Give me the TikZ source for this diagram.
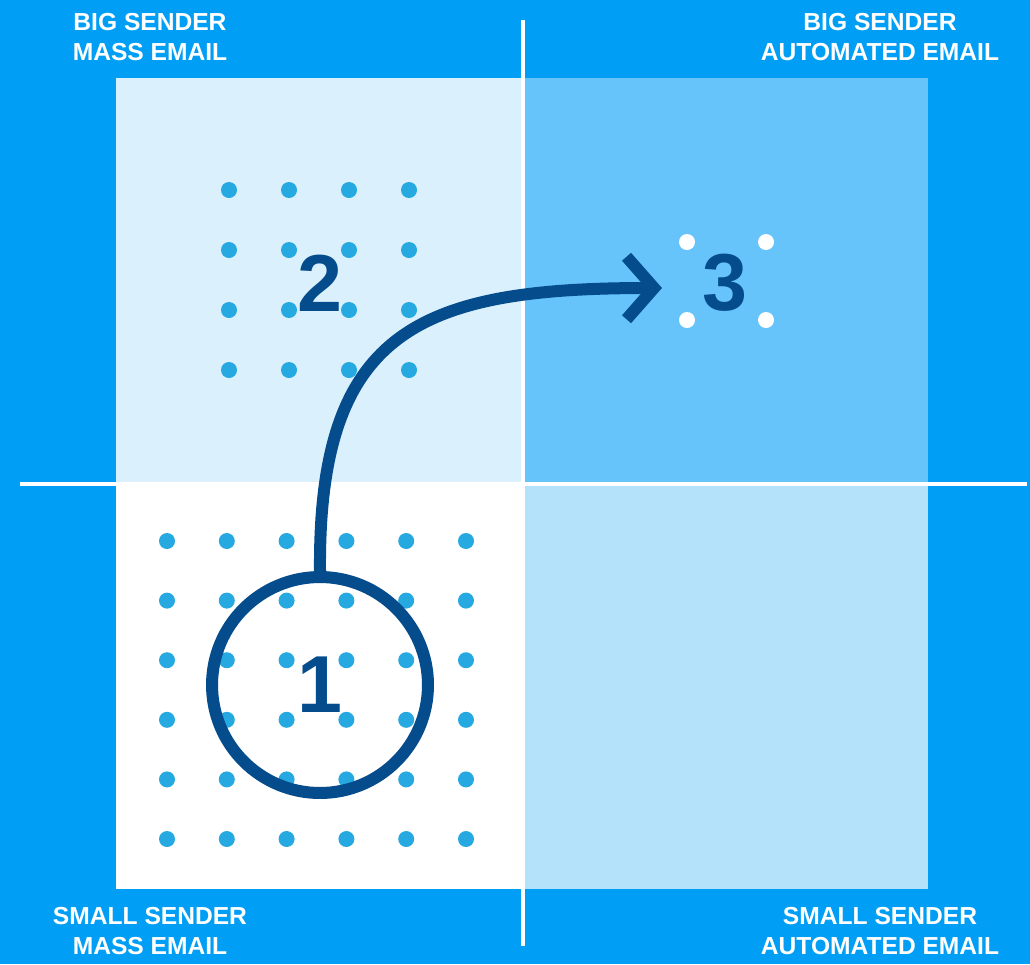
\documentclass[tikz,border=0pt]{standalone}
\usepackage{fontspec}
\setmainfont{Liberation Sans}
\usepackage{xcolor}
\usetikzlibrary{arrows.meta, positioning}
\definecolor{skyblue}{RGB}{0,159,245}
\definecolor{palepanel}{RGB}{218,240,252}
\definecolor{midpanel}{RGB}{102,196,250}
\definecolor{softpanel}{RGB}{180,226,250}
\definecolor{dotblue}{RGB}{38,169,224}
\definecolor{navy}{RGB}{4,76,140}
\tikzset{
  corner/.style={text=white, font=\bfseries\fontsize{14}{17}\selectfont, align=center},
  digit/.style={text=navy, font=\bfseries\fontsize{46}{46}\selectfont, inner sep=0pt},
  divider/.style={white, line width=0.08cm}
}

\begin{document}
\begin{tikzpicture}[x=0.02cm, y=-0.02cm]
    % Background
    \useasboundingbox (0,0) rectangle (1030,964);
    \fill[skyblue] (0,0) rectangle (1030,964);

    % Quadrant panels
    \fill[palepanel] (116,78) rectangle (523,484);
    \fill[midpanel] (523,78) rectangle (928,484);
    \fill[white] (116,484) rectangle (523,889);
    \fill[softpanel] (523,484) rectangle (928,889);

    % Axes
    \coordinate (vtop) at (523,20);
    \coordinate (vbot) at (523,946);
    \coordinate (hleft) at (20,484);
    \coordinate (hright) at (1027,484);
    \draw[divider] (vtop) -- (vbot);
    \draw[divider] (hleft) -- (hright);

    % Dot grids
    \foreach \i in {0,...,5}
      \foreach \j in {0,...,5}
        \fill[dotblue] (167+59.8*\i, 541+59.6*\j) circle (8);
    \foreach \i in {0,...,3}
      \foreach \j in {0,...,3}
        \fill[dotblue] (229+60*\i, 190+60*\j) circle (8);
    \foreach \p in {(687,242),(766,242),(687,320),(766,320)}
      \fill[white] \p circle (8);

    % Numbers
    \node[digit] (two) at (320,283) {2};
    \node[digit] (three) at (725,283) {3};
    \node[digit, draw=navy, line width=0.24cm, circle, minimum size=4.32cm] (ring) at (320,685) {1};

    % Move from 1 to 3
    \coordinate (tip) at (662,288);
    \draw[navy, line width=0.24cm, -{Straight Barb[length=0.55cm, width=1.25cm]}]
      (ring.north) .. controls (318,330) and (420,288) .. (tip);

    % Labels
    \node[corner] (bigmass) at (150,37) {BIG SENDER\\MASS EMAIL};
    \node[corner] (bigauto) at (880,37) {BIG SENDER\\AUTOMATED EMAIL};
    \node[corner] (smallmass) at (150,931) {SMALL SENDER\\MASS EMAIL};
    \node[corner] (smallauto) at (880,931) {SMALL SENDER\\AUTOMATED EMAIL};
\end{tikzpicture}
\end{document}
